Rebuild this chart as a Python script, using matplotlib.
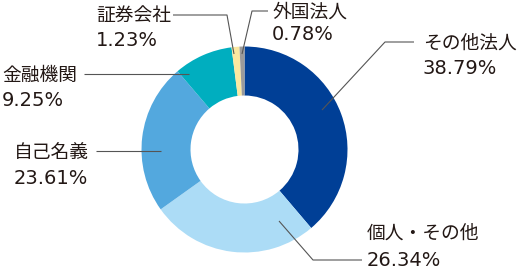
import matplotlib
matplotlib.use("Agg")
import matplotlib.pyplot as plt

# データ（株主構成比）
categories = ['その他法人', '個人・その他', '自己名義', '金融機関', '証券会社', '外国法人']
shares = [38.79, 26.34, 23.61, 9.25, 1.23, 0.78]
colors = ['#003f96', '#acdcf6', '#53a8de', '#00aebf', '#fbe8a0', '#9a9a9a']

W, H = 520, 270
TXT = '#231815'
LINE = '#555555'

fig = plt.figure(figsize=(W / 100, H / 100), dpi=100)
ax = fig.add_axes([0, 0, 1, 1])


def Y(y):
    # ピクセル座標（上から）を軸座標へ
    return H - y


ax.pie(shares, colors=colors, startangle=90, counterclock=False,
       center=(244.5, Y(149.5)), radius=103,
       wedgeprops=dict(width=49, linewidth=0), frame=True)
ax.set_xlim(0, W)
ax.set_ylim(0, H)
ax.set_aspect('equal')
ax.axis('off')

# ラベル配置: (名前x, 名前y, 数値y), 引き出し線
layout = {
    'その他法人': ((423, 43, 69), [(322, 110), (385, 42), (414, 42)]),
    '個人・その他': ((367, 233, 260), [(279, 221), (313, 260), (362, 260)]),
    '自己名義': ((14, 152, 178), [(96, 151), (161, 151)]),
    '金融機関': ((2, 75, 100), [(84, 74), (189, 74)]),
    '証券会社': ((96, 15, 40), [(173, 15), (227, 15), (234, 54)]),
    '外国法人': ((272, 12, 35), [(242, 54), (252, 11), (268, 11)]),
}

for name, val in zip(categories, shares):
    (tx, ny, vy), pts = layout[name]
    ax.text(tx, Y(ny), name, fontsize=13.5, color=TXT, va='center', ha='left',
            family=['Noto Sans CJK JP', 'DejaVu Sans'])
    ax.text(tx, Y(vy), f'{val:.2f}%', fontsize=14, color=TXT, va='center', ha='left',
            family=['DejaVu Sans'])
    ax.plot([p[0] for p in pts], [Y(p[1]) for p in pts], color=LINE, lw=0.8,
            solid_capstyle='butt')

fig.savefig('out.png', dpi=100)
